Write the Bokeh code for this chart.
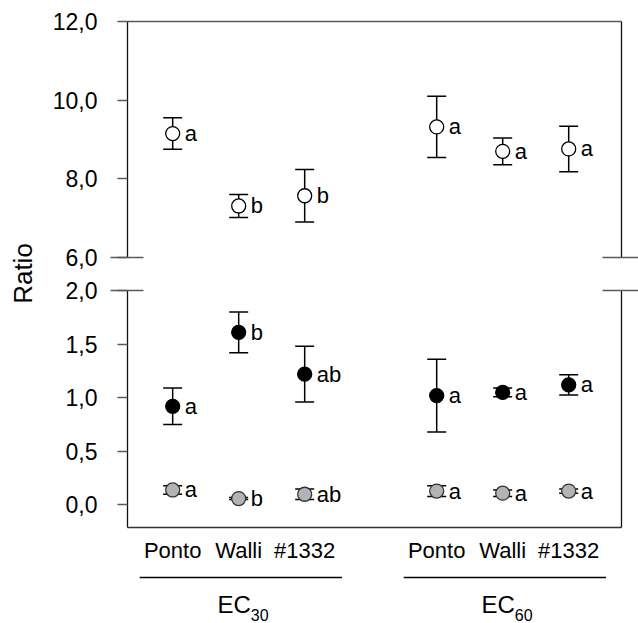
import math
from bokeh.plotting import figure
from bokeh.layouts import row, column
from bokeh.models import (Range1d, LinearAxis, FixedTicker, CustomJSTickFormatter,
                          ColumnDataSource)
from bokeh.core.properties import value
from bokeh.embed import file_html
from bokeh.resources import INLINE

# ---------------- data ----------------
groups = ["EC30", "EC30", "EC30", "EC60", "EC60", "EC60"]
cultivars = ["Ponto", "Walli", "#1332", "Ponto", "Walli", "#1332"]

open_mean = [9.15, 7.31, 7.57, 9.32, 8.70, 8.76]
open_err = [0.40, 0.29, 0.67, 0.78, 0.34, 0.58]
open_letters = ["a", "b", "b", "a", "a", "a"]

black_mean = [0.92, 1.61, 1.22, 1.02, 1.05, 1.12]
black_err = [0.17, 0.19, 0.26, 0.34, 0.04, 0.095]
black_letters = ["a", "b", "ab", "a", "a", "a"]

gray_mean = [0.14, 0.06, 0.10, 0.13, 0.11, 0.13]
gray_err = [0.04, 0.01, 0.05, 0.05, 0.03, 0.02]
gray_letters = ["a", "b", "ab", "a", "a", "a"]

top_ticks = [6, 8, 10, 12]
bottom_ticks = [0, 0.5, 1, 1.5, 2]
group_names = ["EC", "EC"]
group_subs = ["30", "60"]

# ---------------- layout helpers ----------------
FONT = "Liberation Sans"
uniq_groups = list(dict.fromkeys(groups))
xs = []
for i, g in enumerate(groups):
    gi = uniq_groups.index(g)
    within = groups[:i].count(g)
    xs.append(1 + within + gi * (groups.count(uniq_groups[0]) + 1))

xr = Range1d(0.3155, 7.80)
TICK_C = "#5a5a5a"
AXIS_C = "#111111"

num_fmt = CustomJSTickFormatter(code="return tick.toFixed(1).replace('.', ',');")


def base_fig(height, y_range, top_b, bottom_b):
    p = figure(width=593, height=height, x_range=xr, y_range=y_range,
               output_backend="svg", toolbar_location=None,
               x_axis_location=None, y_axis_location=None,
               min_border_left=82, min_border_right=8,
               min_border_top=top_b, min_border_bottom=bottom_b,
               outline_line_color=None, background_fill_color="white",
               border_fill_color="white")
    p.grid.grid_line_color = None
    return p


def left_axis(p, ticks, break_tick):
    ax = LinearAxis(ticker=FixedTicker(ticks=ticks, minor_ticks=[break_tick]),
                    formatter=num_fmt)
    ax.axis_line_color = AXIS_C
    ax.axis_line_width = 1.3
    ax.major_tick_line_color = TICK_C
    ax.major_tick_line_width = 1.3
    ax.major_tick_out = 10
    ax.major_tick_in = 0
    ax.minor_tick_line_color = TICK_C
    ax.minor_tick_line_width = 1.3
    ax.minor_tick_in = 16
    ax.minor_tick_out = 17
    ax.major_label_standoff = 13
    ax.major_label_text_font = FONT
    ax.major_label_text_font_size = "23px"
    ax.major_label_text_color = "black"
    p.add_layout(ax, "left")


def right_axis(p, break_tick):
    ax = LinearAxis(ticker=FixedTicker(ticks=[], minor_ticks=[break_tick]))
    ax.axis_line_color = AXIS_C
    ax.axis_line_width = 1.3
    ax.major_tick_out = 0
    ax.major_tick_in = 0
    ax.minor_tick_line_color = TICK_C
    ax.minor_tick_line_width = 1.3
    ax.minor_tick_in = 19
    ax.minor_tick_out = 17
    ax.major_label_standoff = 0
    ax.major_label_text_font_size = "0px"
    p.add_layout(ax, "right")


def series(p, mean, err, letters, fill, line):
    src = ColumnDataSource(dict(x=xs, y=mean,
                                lo=[m - e for m, e in zip(mean, err)],
                                hi=[m + e for m, e in zip(mean, err)],
                                lab=letters))
    p.segment(x0="x", y0="lo", x1="x", y1="hi", source=src,
              line_color="black", line_width=1.5)
    p.scatter("x", "lo", marker="dash", size=19, line_color="black",
              line_width=1.5, source=src)
    p.scatter("x", "hi", marker="dash", size=19, line_color="black",
              line_width=1.5, source=src)
    p.scatter("x", "y", marker="circle", size=14, fill_color=fill,
              line_color=line, line_width=1.3, source=src)
    p.text("x", "y", text="lab", x_offset=12, text_align="left",
           text_baseline="middle", text_font=value(FONT),
           text_font_size="22px", text_color="black", source=src)


# ---------------- top panel ----------------
top = base_fig(273, Range1d(6, 12), 21, 16)
left_axis(top, top_ticks, top_ticks[0])
right_axis(top, top_ticks[0])
above = LinearAxis(ticker=FixedTicker(ticks=[]))
above.axis_line_color = "#5a5a5a"
above.axis_line_width = 1.3
above.major_tick_out = 0
above.major_tick_in = 0
above.major_label_standoff = 0
above.major_label_text_font_size = "0px"
top.add_layout(above, "above")
series(top, open_mean, open_err, open_letters, "white", "black")

# ---------------- bottom panel ----------------
bot = base_fig(294, Range1d(-0.21, 2.0), 17, 40)
left_axis(bot, bottom_ticks, bottom_ticks[-1])
right_axis(bot, bottom_ticks[-1])
below = LinearAxis(ticker=FixedTicker(ticks=xs),
                   formatter=CustomJSTickFormatter(
                       args=dict(pos=xs, names=cultivars),
                       code="const i = pos.indexOf(tick); return i >= 0 ? names[i] : '';"))
below.axis_line_color = "#333333"
below.axis_line_width = 1.3
below.major_tick_out = 0
below.major_tick_in = 0
below.major_label_standoff = 10
below.major_label_text_font = FONT
below.major_label_text_font_size = "22px"
below.major_label_text_color = "black"
bot.add_layout(below, "below")
series(bot, black_mean, black_err, black_letters, "black", "black")
series(bot, gray_mean, gray_err, gray_letters, "#b3b3b3", "#333333")

# ---------------- group labels ----------------
grp = figure(width=593, height=56, x_range=xr, y_range=Range1d(623, 567),
             output_backend="svg", toolbar_location=None,
             x_axis_location=None, y_axis_location=None,
             min_border_left=82, min_border_right=8,
             min_border_top=0, min_border_bottom=0,
             outline_line_color=None)
grp.grid.grid_line_color = None
g_start, g_end, g_center = [], [], []
for g in uniq_groups:
    gx = [x for x, gg in zip(xs, groups) if gg == g]
    s, e = min(gx) - 0.5, max(gx) + 0.565
    g_start.append(s)
    g_end.append(e)
    g_center.append((s + e) / 2)
line_y = [577] * len(uniq_groups)
grp.segment(x0=g_start, y0=line_y, x1=g_end, y1=line_y, line_color="black",
            line_width=1.3)
grp.text(x=g_center, y=[604] * len(uniq_groups), text=group_names, x_offset=10,
         text_align="right", text_baseline="middle", text_font=value(FONT),
         text_font_size="24px", text_color="black")
grp.text(x=g_center, y=[604] * len(uniq_groups), text=group_subs, x_offset=10,
         y_offset=10, text_align="left", text_baseline="middle",
         text_font=value(FONT), text_font_size="16px", text_color="black")

# ---------------- y title ----------------
lab = figure(width=45, height=623, x_range=Range1d(0, 45), y_range=Range1d(0, 623),
             output_backend="svg", toolbar_location=None,
             x_axis_location=None, y_axis_location=None,
             min_border_left=0, min_border_right=0,
             min_border_top=0, min_border_bottom=0,
             outline_line_color=None)
lab.grid.grid_line_color = None
lab.text(x=[22.5], y=[623 - 273], text=["Ratio"], angle=math.pi / 2,
         text_align="center", text_baseline="middle", text_font=value(FONT),
         text_font_size="26px", text_color="black")

layout = row(lab, column(top, bot, grp))
open("out.html", "w").write(file_html(layout, INLINE))
